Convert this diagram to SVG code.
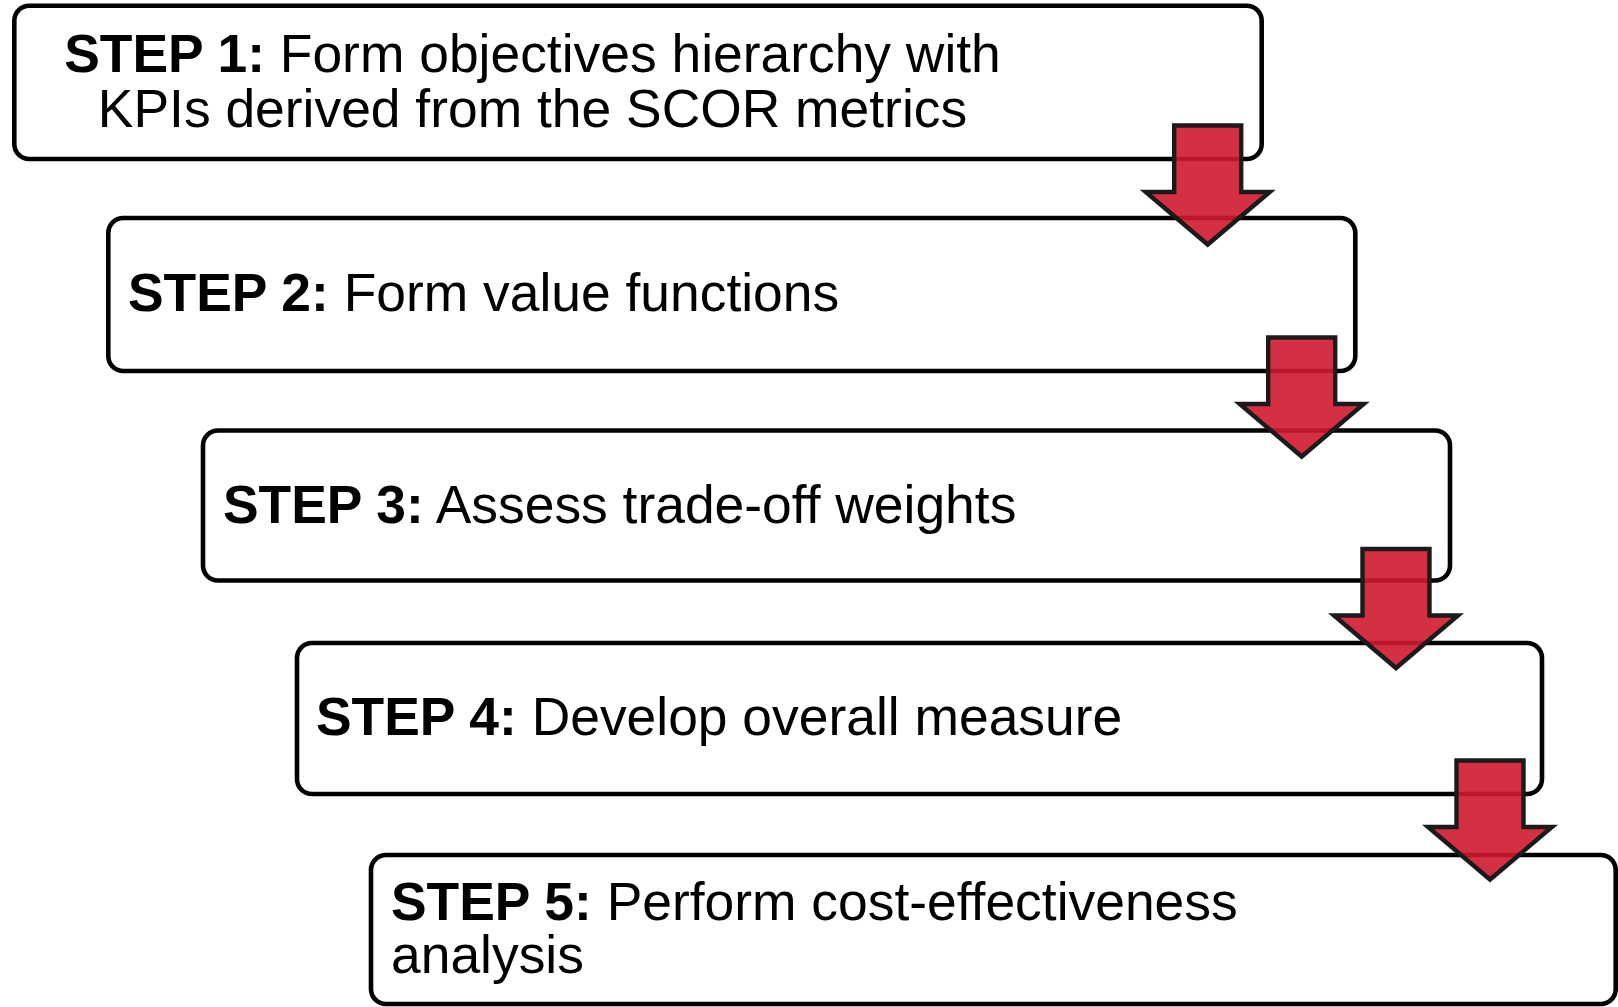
<svg xmlns="http://www.w3.org/2000/svg" width="1618" height="1007" viewBox="0 0 1618 1007">
  <style>
    .box { fill: #ffffff; stroke: #000000; stroke-width: 4.6; }
    .lbl { font-family: "Liberation Sans", Arial, sans-serif; font-size: 53.4px; fill: #000000; }
    .b { font-weight: bold; }
    .arrow { fill: #d0182f; fill-opacity: 0.9; stroke: #1c1a1b; stroke-width: 4.4; stroke-linejoin: miter; stroke-miterlimit: 10; }
  </style>
  <defs>
    <path id="down" d="M -33.5,0 H 33.5 V 66.5 H 62 L 0,119 L -62,66.5 H -33.5 Z"/>
  </defs>

  <g id="step1">
    <rect class="box" x="14.3" y="5.7" width="1247.4" height="153.3" rx="15"/>
    <text class="lbl" text-anchor="middle"><tspan x="532.5" y="71.7"><tspan class="b">STEP 1:</tspan> Form objectives hierarchy with</tspan><tspan x="532.5" y="126.7">KPIs derived from the SCOR metrics</tspan></text>
  </g>

  <g id="step2">
    <rect class="box" x="108.3" y="218" width="1247" height="153" rx="15"/>
    <text class="lbl" x="128" y="311"><tspan class="b">STEP 2:</tspan> Form value functions</text>
  </g>

  <g id="step3">
    <rect class="box" x="203" y="430.5" width="1247" height="150" rx="15"/>
    <text class="lbl" x="223" y="522.7"><tspan class="b">STEP 3:</tspan> Assess trade-off weights</text>
  </g>

  <g id="step4">
    <rect class="box" x="297" y="643" width="1245" height="151" rx="15"/>
    <text class="lbl" x="316" y="735"><tspan class="b">STEP 4:</tspan> Develop overall measure</text>
  </g>

  <g id="step5">
    <rect class="box" x="371" y="855" width="1244.7" height="149" rx="15"/>
    <text class="lbl"><tspan x="391" y="920"><tspan class="b">STEP 5:</tspan> Perform cost-effectiveness</tspan><tspan x="391" y="973.3">analysis</tspan></text>
  </g>

  <g id="connectors">
    <use href="#down" class="arrow" transform="translate(1207.7,125.5)"/>
    <use href="#down" class="arrow" transform="translate(1301.7,337.5)"/>
    <use href="#down" class="arrow" transform="translate(1396,549)"/>
    <use href="#down" class="arrow" transform="translate(1490,760.5)"/>
  </g>
</svg>
